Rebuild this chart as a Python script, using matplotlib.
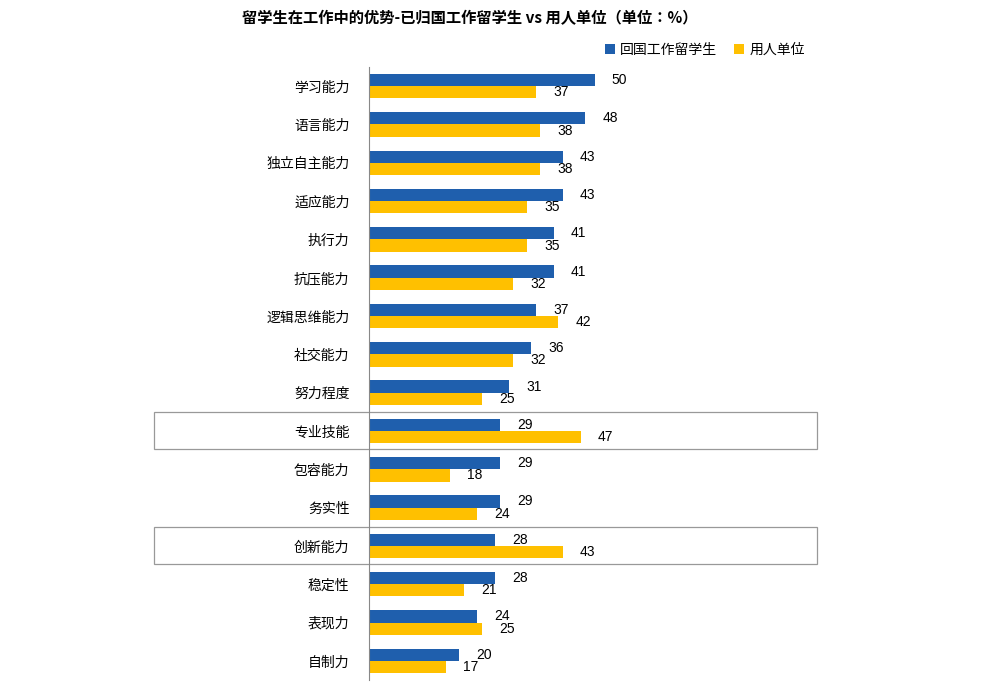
import matplotlib
matplotlib.use("Agg")
import matplotlib.pyplot as plt
from matplotlib.patches import Rectangle
import numpy as np

plt.rcParams["font.family"] = ["Noto Sans CJK SC", "Noto Sans CJK JP", "Noto Sans CJK TC", "DejaVu Sans"]

categories = ["学习能力","语言能力","独立自主能力","适应能力","执行力","抗压能力","逻辑思维能力",
              "社交能力","努力程度","专业技能","包容能力","务实性","创新能力","稳定性","表现力","自制力"]
returnees = [50,48,43,43,41,41,37,36,31,29,29,29,28,28,24,20]
employers = [37,38,38,35,35,32,42,32,25,47,18,24,43,21,25,17]
highlight = ["专业技能","创新能力"]

fig = plt.figure(figsize=(9.91,6.82), dpi=100)
ax = fig.add_axes([369/991, 2/682, 451/991, (680-67)/682])
y = np.arange(len(categories))
h = 0.32
b1 = ax.barh(y - h/2, returnees, height=h, color="#1F5FAD", label="回国工作留学生")
b2 = ax.barh(y + h/2, employers, height=h, color="#FFC000", label="用人单位")
for bars, vals in ((b1, returnees), (b2, employers)):
    for r, v in zip(bars, vals):
        ax.text(v + 3.8, r.get_y() + r.get_height()/2, str(v), va="center", ha="left",
                fontsize=10, family="Liberation Sans")
ax.set_xlim(0, 100)
ax.set_ylim(len(categories) - 0.5, -0.5)
ax.set_yticks(y)
ax.set_yticklabels(categories, fontsize=10)
ax.tick_params(axis="y", length=0, pad=14)
ax.set_xticks([])
for s in ["top", "right", "bottom"]:
    ax.spines[s].set_visible(False)
ax.spines["left"].set_color("#888888")
for c in highlight:
    i = categories.index(c)
    ax.add_patch(Rectangle((-47.6, i - 0.5), 146.9, 0.98, fill=False, edgecolor="#999999",
                           linewidth=0.9, clip_on=False))
fig.text(470/991, 1 - 18/682, "留学生在工作中的优势-已归国工作留学生 vs 用人单位（单位：%）",
         ha="center", va="center", fontsize=11, fontweight="bold")
ax.legend(loc="center", bbox_to_anchor=(705/991, 1 - 50/682), bbox_transform=fig.transFigure,
          ncol=2, frameon=False, fontsize=10, handlelength=0.7, handletextpad=0.4, columnspacing=1.2)
fig.savefig("out.png", dpi=100)
